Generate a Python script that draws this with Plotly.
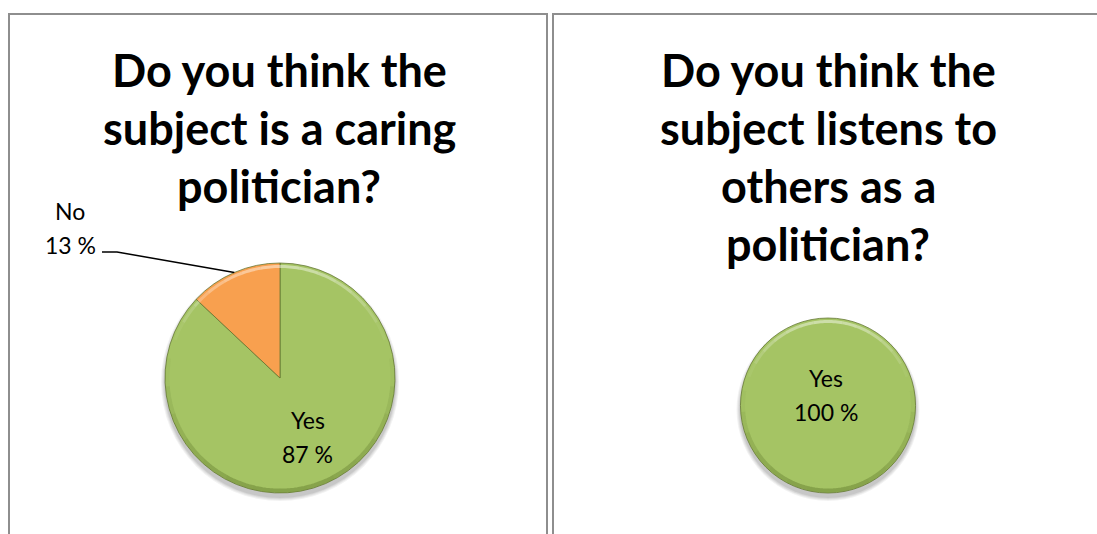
import math
import plotly.graph_objects as go

W, H = 1097, 534

# Survey answers, one pie per question
caring_labels = ["Yes", "No"]
caring_values = [87, 13]
listens_labels = ["Yes"]
listens_values = [100]

caring_title = ["Do you think the", "subject is a caring", "politician?"]
listens_title = ["Do you think the", "subject listens to", "others as a", "politician?"]

GREEN = "#A5C464"
ORANGE = "#F8A04F"
colors = {"Yes": GREEN, "No": ORANGE}


def X(px):
    return px / W


def Y(py):
    return 1 - py / H


# pie geometry in pixels: centre and radius
left_pie = dict(cx=280, cy=378, r=115)
right_pie = dict(cx=828, cy=405.5, r=87.5)


def domain(p):
    return dict(x=[X(p["cx"] - p["r"]), X(p["cx"] + p["r"])],
                y=[Y(p["cy"] + p["r"]), Y(p["cy"] - p["r"])])


fig = go.Figure()

for p, labels, values in [(left_pie, caring_labels, caring_values),
                          (right_pie, listens_labels, listens_values)]:
    fig.add_trace(go.Pie(
        labels=labels, values=values, sort=False, direction="clockwise",
        rotation=0, textinfo="none", hoverinfo="label+percent",
        marker=dict(colors=[colors[l] for l in labels],
                    line=dict(color="rgba(95,115,45,0.75)", width=1)),
        domain=domain(p), showlegend=False,
    ))

shapes = []
annotations = []

# soft drop shadows under each pie
for p in (left_pie, right_pie):
    for k, a in enumerate([0.05, 0.05, 0.06, 0.07]):
        grow = 5 - k
        shapes.append(dict(
            type="circle", xref="paper", yref="paper", layer="below",
            x0=X(p["cx"] - p["r"] - grow + 1), x1=X(p["cx"] + p["r"] + grow - 1),
            y0=Y(p["cy"] + p["r"] + grow + 3), y1=Y(p["cy"] - p["r"] - grow + 5),
            line=dict(width=0), fillcolor=f"rgba(0,0,0,{a})",
        ))


def arc(p, inset, a0, a1, n=8):
    # polyline arc, angles in degrees clockwise from 12 o'clock
    rr = p["r"] - inset
    pts = []
    for i in range(n + 1):
        t = math.radians(a0 + (a1 - a0) * i / n)
        pts.append((X(p["cx"] + rr * math.sin(t)), Y(p["cy"] - rr * math.cos(t))))
    return "M " + " L ".join(f"{x:.5f},{y:.5f}" for x, y in pts)


def faded_arc(p, inset, a0, a1, rgb, alpha, width, pieces=14):
    # arc split into pieces whose opacity fades out towards both ends
    step = (a1 - a0) / pieces
    for i in range(pieces):
        s = a0 + i * step
        w = math.sin(math.pi * (i + 0.5) / pieces)
        shapes.append(dict(type="path", xref="paper", yref="paper", layer="above",
                           path=arc(p, inset, s, s + step),
                           line=dict(color=f"rgba({rgb},{alpha * w:.3f})", width=width)))


# bevel: light rim on top, darker rim at the bottom
for p in (left_pie, right_pie):
    faded_arc(p, 3.5, -70, 70, "255,255,255", 0.45, 3)
    faded_arc(p, 2.5, 80, 280, "85,110,35", 0.40, 4)

# panel frames
border = dict(color="#8E8E8E", width=2)
for x0, x1 in [(8, 548), (553, 1100)]:
    shapes.append(dict(type="line", xref="paper", yref="paper",
                       x0=X(x0), x1=X(x1), y0=Y(14), y1=Y(14), line=border))
for x in (9, 547, 553):
    shapes.append(dict(type="line", xref="paper", yref="paper",
                       x0=X(x), x1=X(x), y0=Y(13), y1=Y(540), line=border))

title_font = dict(family="Lato, 'Open Sans', sans-serif", size=45, color="#000000")
for cx, lines in [(279, caring_title), (828, listens_title)]:
    for i, line in enumerate(lines):
        annotations.append(dict(
            text=f"<b>{line}</b>", x=X(cx), y=Y(70 + 58 * i), xref="paper", yref="paper",
            xanchor="center", yanchor="middle", showarrow=False, font=title_font,
        ))

label_font = dict(family="Lato, 'Open Sans', sans-serif", size=23, color="#000000")


def slice_mid(p, values, idx, frac):
    total = sum(values)
    start = sum(values[:idx]) / total * 360
    mid = math.radians(start + values[idx] / total * 180)
    return p["cx"] + frac * p["r"] * math.sin(mid), p["cy"] - frac * p["r"] * math.cos(mid)


def add_label(x, y, label, value):
    annotations.append(dict(text=label, x=X(x), y=Y(y - 17), xref="paper", yref="paper",
                            xanchor="center", yanchor="middle", showarrow=False, font=label_font))
    annotations.append(dict(text=f"{value} %", x=X(x), y=Y(y + 17), xref="paper", yref="paper",
                            xanchor="center", yanchor="middle", showarrow=False, font=label_font))


# inside label for the larger slice
yx, yy = slice_mid(left_pie, caring_values, 0, 0.56)
add_label(yx + 2, yy, caring_labels[0], caring_values[0])

# outside label with leader line for the small slice
ex, ey = slice_mid(left_pie, caring_values, 1, 1.0)
add_label(70, 228, caring_labels[1], caring_values[1])
shapes.append(dict(type="path", xref="paper", yref="paper",
                   path=f"M {X(102)},{Y(252)} L {X(117)},{Y(252)} L {X(ex)},{Y(ey)}",
                   line=dict(color="#000000", width=1.5)))

# full circle: label at the centre
add_label(right_pie["cx"] - 2, right_pie["cy"] - 11, listens_labels[0], listens_values[0])

fig.update_layout(
    width=W, height=H, margin=dict(l=0, r=0, t=0, b=0),
    paper_bgcolor="#FFFFFF", plot_bgcolor="#FFFFFF",
    shapes=shapes, annotations=annotations,
)

fig.write_html("out.html")
